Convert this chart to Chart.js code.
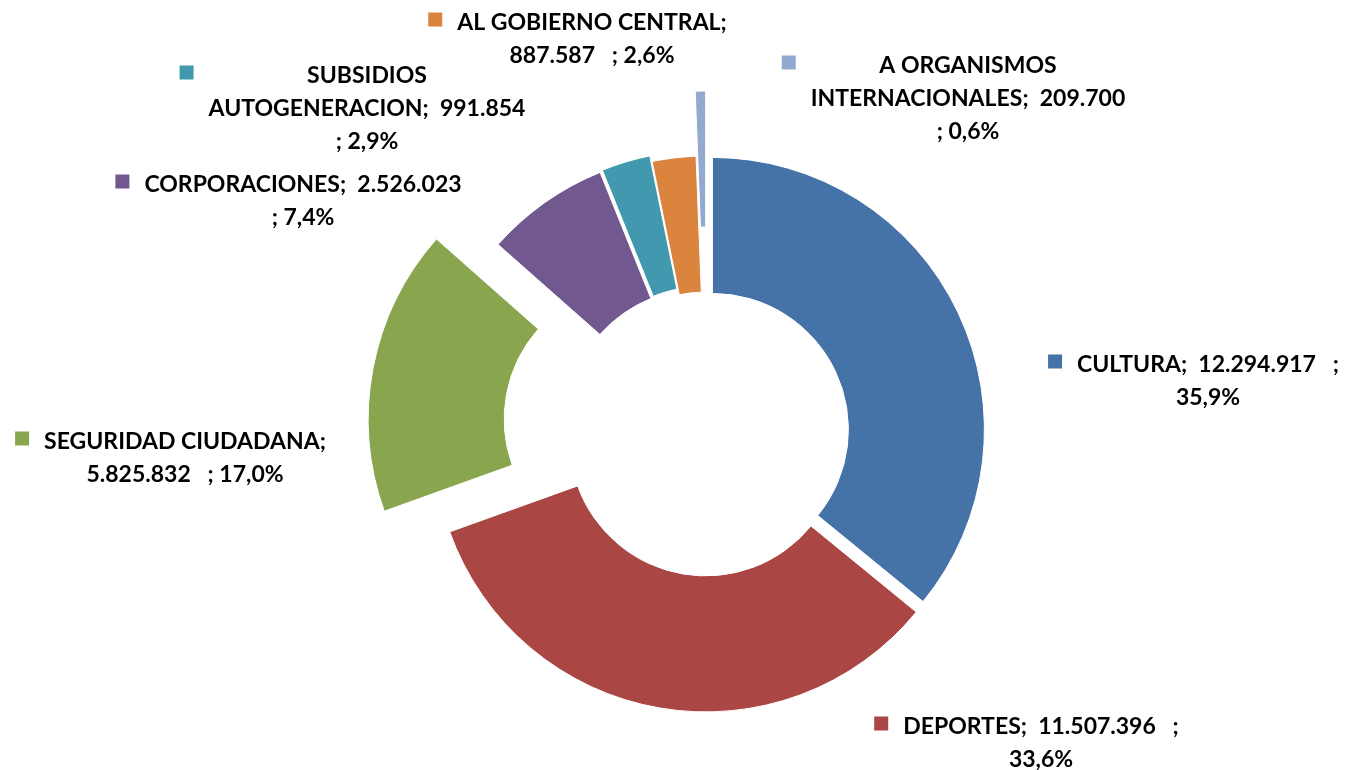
<!DOCTYPE html>
<html>
<head>
<meta charset="utf-8">
<script src="https://cdn.jsdelivr.net/npm/chart.js@4.4.1/dist/chart.umd.min.js"></script>
<style>
  html, body { margin: 0; padding: 0; background: #fff; }
  #wrap { width: 1346px; height: 770px; }
</style>
</head>
<body>
<div id="wrap"><canvas id="pieChart" width="1346" height="770"></canvas></div>
<script>
// categories and values
var categories = ["CULTURA", "DEPORTES", "SEGURIDAD CIUDADANA", "CORPORACIONES",
  "SUBSIDIOS AUTOGENERACION", "AL GOBIERNO CENTRAL", "A ORGANISMOS INTERNACIONALES"];
var values = [12294917, 11507396, 5825832, 2526023, 991854, 887587, 209700];
var colors = ['#4572A7', '#AA4643', '#89A54E', '#71588F', '#4198AF', '#DB843D', '#93A9CF'];

// how far each slice is pulled out (px)
var explode = [6, 8, 68, 9, 10, 4, 69];
// label anchor: text centre x / first line middle y, relative to the ring centre
var labelPos = [[501, -68], [334, 294], [-522, 9], [-404, -248], [-340, -357], [-115, -410], [261, -367]];
// words per wrapped line of each label
var labelWrap = [[3, 1], [3, 1], [2, 3], [2, 2], [1, 2, 2], [3, 3], [2, 2, 2]];

var labelFont = 'bold 23px Lato';
var lineGap = 33;

function fmtNum(v) {
  return v.toString().replace(/\B(?=(\d{3})+(?!\d))/g, '.');
}

var total = values.reduce(function(a, b) { return a + b; }, 0);

var explodePlugin = {
  id: 'explode',
  afterDatasetUpdate: function(chart, args) {
    args.meta.data.forEach(function(arc, i) {
      var mid = (arc.startAngle + arc.endAngle) / 2;
      arc.x += Math.cos(mid) * explode[i];
      arc.y += Math.sin(mid) * explode[i];
    });
  }
};

var labelPlugin = {
  id: 'sliceLabels',
  afterDraw: function(chart) {
    var ctx = chart.ctx;
    var area = chart.chartArea;
    var cx = (area.left + area.right) / 2;
    var cy = (area.top + area.bottom) / 2;
    ctx.save();
    ctx.font = labelFont;
    ctx.textAlign = 'center';
    ctx.textBaseline = 'alphabetic';
    categories.forEach(function(name, i) {
      var pct = (values[i] / total * 100).toFixed(1).replace('.', ',') + '%';
      var full = name + ';  ' + fmtNum(values[i]) + '   ; ' + pct;
      var parts = full.split(/( +)/);
      // parts = word, spaces, word, spaces ...
      var lines = [];
      var w = 0;
      labelWrap[i].forEach(function(n) {
        var line = parts[w * 2];
        for (var k = 1; k < n; k++) {
          line += parts[(w + k) * 2 - 1] + parts[(w + k) * 2];
        }
        lines.push(line);
        w += n;
      });

      var tx = cx + labelPos[i][0];
      var ty = cy + labelPos[i][1];
      var widest = 0;
      ctx.fillStyle = '#000';
      lines.forEach(function(l, j) {
        widest = Math.max(widest, ctx.measureText(l).width);
        ctx.fillText(l, tx, ty + 8 + j * lineGap);
      });
      ctx.fillStyle = colors[i];
      ctx.fillRect(tx - widest / 2 - 29, ty - 9.5, 14, 14);
    });
    ctx.restore();
  }
};

var pieChart = new Chart(document.getElementById('pieChart').getContext('2d'), {
  type: 'doughnut',
  data: {
    labels: categories,
    datasets: [{
      data: values,
      backgroundColor: colors,
      borderColor: '#ffffff',
      borderWidth: 1,
      offset: 0
    }]
  },
  options: {
    responsive: false,
    animation: false,
    events: [],
    radius: 272,
    cutout: '50%',
    layout: { padding: { left: 68, top: 94, right: 0, bottom: 0 } },
    plugins: {
      legend: { display: false },
      tooltip: { enabled: false }
    }
  },
  plugins: [explodePlugin, labelPlugin]
});
</script>
</body>
</html>
